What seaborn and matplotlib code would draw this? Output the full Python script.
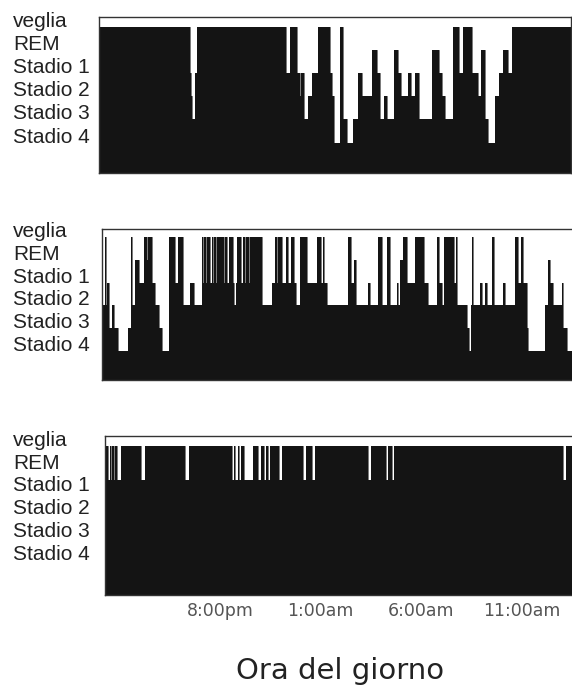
import matplotlib
matplotlib.use("Agg")
import matplotlib.pyplot as plt
import pandas as pd
import seaborn as sns

sns.set_theme(style="white")
plt.rcParams['font.family'] = ['Liberation Sans', 'DejaVu Sans']

# --- dati ---
# stadi del sonno (veglia in alto, Stadio 4 in basso)
stadi_nomi = ["veglia", "REM", "Stadio 1", "Stadio 2", "Stadio 3", "Stadio 4"]
stadi_livelli = [5, 4, 3, 2, 1, 0]

# ore del giorno (oltre le 24 = giorno dopo)
ore_tick = [20, 25, 30, 35]
ore_etichette = ["8:00pm", "1:00am", "6:00am", "11:00am"]

# ogni valore di *_ora e' l'inizio di un tratto, *_stadio lo stadio in quel tratto
p1_ora = [13.99, 18.51, 18.58, 18.63, 18.76, 18.84, 23.26, 23.47, 23.80, 23.95,
          24.04, 24.19, 24.35, 24.55, 24.85, 25.46, 25.56, 25.64, 25.96, 26.12,
          26.29, 26.62, 26.87, 27.03, 27.53, 27.78, 27.94, 28.16, 28.27, 28.65,
          28.85, 28.98, 29.31, 29.48, 29.68, 29.88, 30.54, 30.87, 31.03, 31.17,
          31.58, 31.86, 32.08, 32.52, 32.79, 32.95, 33.15, 33.32, 33.65, 33.85,
          34.06, 34.28, 34.47, 37.42]
p1_stadio = [5, 3, 2, 1, 3, 5, 3, 5, 3, 2,
             3, 1, 2, 3, 5, 3, 2, 0, 5, 1,
             0, 1, 3, 2, 4, 3, 1, 2, 1, 4,
             3, 2, 3, 2, 3, 1, 4, 3, 2, 1,
             5, 3, 5, 3, 2, 4, 1, 0, 2, 3,
             4, 3, 5, 5]

p2_ora = [14.13, 14.31, 14.36, 14.41, 14.47, 14.64, 14.76, 14.92, 15.45, 15.57,
          15.63, 15.77, 15.96, 16.21, 16.36, 16.44, 16.61, 16.79, 16.97, 17.11,
          17.47, 17.77, 17.90, 18.18, 18.51, 18.73, 19.09, 19.12, 19.17, 19.22,
          19.29, 19.37, 19.50, 19.59, 19.65, 19.72, 19.78, 19.83, 20.18, 20.25,
          20.36, 20.43, 20.63, 20.71, 20.79, 20.86, 21.04, 21.16, 21.22, 21.29,
          21.42, 21.49, 22.07, 22.56, 22.73, 22.81, 22.89, 23.09, 23.26, 23.39,
          23.52, 23.69, 23.76, 23.97, 24.30, 24.80, 25.01, 25.10, 25.16, 25.29,
          26.37, 26.50, 26.65, 26.73, 27.36, 27.43, 27.82, 28.06, 28.27, 28.44,
          28.77, 28.83, 28.93, 29.10, 29.26, 29.68, 30.14, 30.34, 30.75, 30.87,
          31.00, 31.13, 31.63, 31.71, 31.76, 32.24, 32.36, 32.46, 32.52, 32.57,
          32.90, 32.99, 33.15, 33.23, 33.48, 33.61, 34.06, 34.14, 34.64, 34.81,
          34.94, 35.05, 35.22, 35.30, 36.13, 36.29, 36.39, 36.54, 36.96, 37.04,
          37.20, 37.67]
p2_stadio = [2, 5, 2, 3, 1, 2, 1, 0, 1, 5,
             2, 4, 3, 5, 4, 5, 3, 2, 1, 0,
             5, 3, 5, 2, 3, 2, 3, 5, 3, 5,
             3, 5, 3, 5, 3, 5, 3, 5, 3, 5,
             3, 5, 3, 2, 3, 5, 3, 5, 3, 5,
             3, 5, 2, 3, 5, 3, 5, 3, 5, 3,
             5, 3, 2, 5, 3, 5, 3, 5, 3, 2,
             5, 3, 4, 2, 3, 2, 5, 2, 5, 2,
             3, 2, 4, 5, 3, 5, 3, 2, 5, 3,
             2, 5, 3, 5, 2, 1, 0, 2, 5, 2,
             3, 2, 3, 2, 5, 2, 3, 2, 5, 3,
             5, 3, 1, 0, 2, 4, 3, 2, 3, 1,
             0, 0]

p3_ora = [14.29, 14.46, 14.52, 14.59, 14.66, 14.72, 14.79, 14.89, 15.09, 16.06,
          16.28, 18.26, 18.46, 20.58, 20.70, 20.76, 20.88, 20.94, 21.04, 21.18,
          21.66, 21.90, 22.04, 22.17, 22.30, 22.40, 22.46, 22.91, 23.06, 24.14,
          24.25, 24.58, 24.72, 27.36, 27.48, 28.24, 28.35, 28.52, 28.65, 37.04,
          37.17, 37.67]
p3_stadio = [5, 3.5, 5, 3.5, 5, 3.5, 5, 3.5, 5, 3.5,
             5, 3.5, 5, 3.5, 5, 3.5, 5, 3.5, 5, 3.5,
             5, 3.5, 5, 3.5, 5, 3.5, 5, 3.5, 5, 3.5,
             5, 3.5, 5, 3.5, 5, 3.5, 5, 3.5, 5, 3.5,
             5, 5]

NERO = "#141414"
W, H = 572, 689

fig = plt.figure(figsize=(W / 100, H / 100), dpi=100)

# riquadri in pixel: sinistra, destra, alto, basso
pannelli = [
    (p1_ora, p1_stadio, (99, 571, 17, 173), (-1.31, 5.42)),
    (p2_ora, p2_stadio, (102, 576, 228.7, 380), (-1.26, 5.36)),
    (p3_ora, p3_stadio, (105, 576, 436, 595), (-1.56, 5.44)),
]

for i, (ora, stadio, (x0, x1, y0, y1), ylim) in enumerate(pannelli):
    ax = fig.add_axes([x0 / W, 1 - y1 / H, (x1 - x0) / W, (y1 - y0) / H])
    df = pd.DataFrame({"ora": ora, "stadio": stadio})

    ax.fill_between(df["ora"], df["stadio"], ylim[0], step="post",
                    color=NERO, linewidth=0)
    sns.lineplot(data=df, x="ora", y="stadio", drawstyle="steps-post",
                 color=NERO, linewidth=0.4, estimator=None, ax=ax)

    # stessa scala oraria per tutti i pannelli: 8:00pm a x=220 px, 20.15 px/ora
    ax.set_xlim(20 + (x0 - 220) / 20.15, 20 + (x1 - 220) / 20.15)
    ax.set_ylim(*ylim)
    ax.set_xlabel("")
    ax.set_ylabel("")

    ax.set_yticks(stadi_livelli, stadi_nomi)
    ax.tick_params(axis="y", length=0, pad=(x0 - 13) * 0.72,
                   labelsize=15, labelcolor="#222222")
    for lab in ax.get_yticklabels():
        lab.set_horizontalalignment("left")
        lab.set_verticalalignment("baseline")

    for sp in ax.spines.values():
        sp.set_visible(True)
        sp.set_color("#333333")
        sp.set_linewidth(1.0)

    if i == len(pannelli) - 1:
        ax.set_xticks(ore_tick, ore_etichette)
        ax.tick_params(axis="x", length=0, pad=5, labelsize=12.5,
                       labelcolor="#555555")
        for lab in ax.get_xticklabels():
            lab.set_family("DejaVu Sans")
        ax.set_xlabel("Ora del giorno", fontsize=21, family="DejaVu Sans",
                      color="#222222", labelpad=27)
    else:
        ax.set_xticks([])

fig.savefig("out.png", dpi=100)
